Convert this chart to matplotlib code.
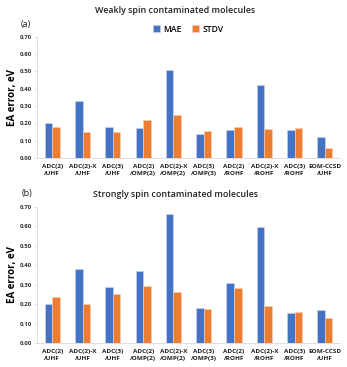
import matplotlib
matplotlib.use('Agg')
import matplotlib.pyplot as plt
import numpy as np

# Method labels (two-line tick labels)
METHODS = ['ADC(2)\n/UHF', 'ADC(2)-X\n/UHF', 'ADC(3)\n/UHF', 'ADC(2)\n/OMP(2)',
           'ADC(2)-X\n/OMP(2)', 'ADC(3)\n/OMP(3)', 'ADC(2)\n/ROHF', 'ADC(2)-X\n/ROHF',
           'ADC(3)\n/ROHF', 'EOM-CCSD\n/UHF']

# Weakly spin contaminated molecules
weak_mae = [0.203, 0.328, 0.180, 0.172, 0.510, 0.137, 0.162, 0.424, 0.162, 0.119]
weak_stdv = [0.177, 0.148, 0.152, 0.222, 0.249, 0.158, 0.181, 0.168, 0.175, 0.060]

# Strongly spin contaminated molecules
strong_mae = [0.200, 0.382, 0.288, 0.372, 0.664, 0.181, 0.311, 0.599, 0.154, 0.171]
strong_stdv = [0.235, 0.201, 0.254, 0.294, 0.263, 0.176, 0.285, 0.191, 0.160, 0.128]

YTICKS = [0.0, 0.1, 0.2, 0.3, 0.4, 0.5, 0.6, 0.7]

BLUE = '#4472C4'
ORANGE = '#ED7D31'
AXIS_GREY = '#D9D9D9'

plt.rcParams['font.family'] = ['Open Sans', 'DejaVu Sans']

fig = plt.figure(figsize=(3.47, 3.67), dpi=100)
ax_top = fig.add_axes([0.107, 0.5695, 0.873, 0.330])
ax_bot = fig.add_axes([0.107, 0.0654, 0.873, 0.3706])


def draw_panel(ax, mae, stdv):
    """
        Draw one grouped bar panel
    """
    x = np.arange(len(METHODS))
    w = 0.25
    ax.bar(x - w / 2, mae, w, color=BLUE, edgecolor='#C9D6EE', linewidth=0.4, label='MAE')
    ax.bar(x + w / 2, stdv, w, color=ORANGE, edgecolor='#F8D2B8', linewidth=0.4, label='STDV')
    ax.set_xlim(-0.5, len(METHODS) - 0.5)
    ax.set_ylim(0, 0.7)
    ax.set_yticks(YTICKS)
    ax.set_yticklabels(['%.2f' % v for v in YTICKS], fontsize=4.3, fontweight='bold', color='#303030')
    ax.set_xticks(x)
    ax.set_xticklabels(METHODS, fontsize=4.6, fontweight='bold', color='#202020', linespacing=1.5)
    ax.tick_params(axis='x', length=0, pad=4)
    ax.tick_params(axis='y', length=2, width=0.5, color=AXIS_GREY, pad=2)
    for side in ['top', 'right']:
        ax.spines[side].set_visible(False)
    for side in ['left', 'bottom']:
        ax.spines[side].set_color(AXIS_GREY)
        ax.spines[side].set_linewidth(0.6)
    ax.set_ylabel('EA error, eV', fontsize=7, fontweight='bold', labelpad=1)
    return ax


draw_panel(ax_top, weak_mae, weak_stdv)
draw_panel(ax_bot, strong_mae, strong_stdv)

# Titles and panel tags
fig.text(0.505, 0.972, 'Weakly spin contaminated molecules', ha='center', va='center',
         fontsize=6.4, fontweight='semibold', color='#202020')
fig.text(0.075, 0.932, '(a)', ha='center', va='center', fontsize=6.5, color='#202020')
fig.text(0.505, 0.469, 'Strongly spin contaminated molecules', ha='center', va='center',
         fontsize=6.4, fontweight='semibold', color='#202020')
fig.text(0.078, 0.474, '(b)', ha='center', va='center', fontsize=6.5, color='#202020')

# Legend only for the top panel
ax_top.legend(loc='center', bbox_to_anchor=(0.5, 1.065), ncol=2, frameon=False,
              handlelength=0.8, handleheight=0.8, columnspacing=1.2,
              handletextpad=0.4, prop={'weight': 'semibold', 'size': 6.2})

fig.savefig('out.png', dpi=100)
